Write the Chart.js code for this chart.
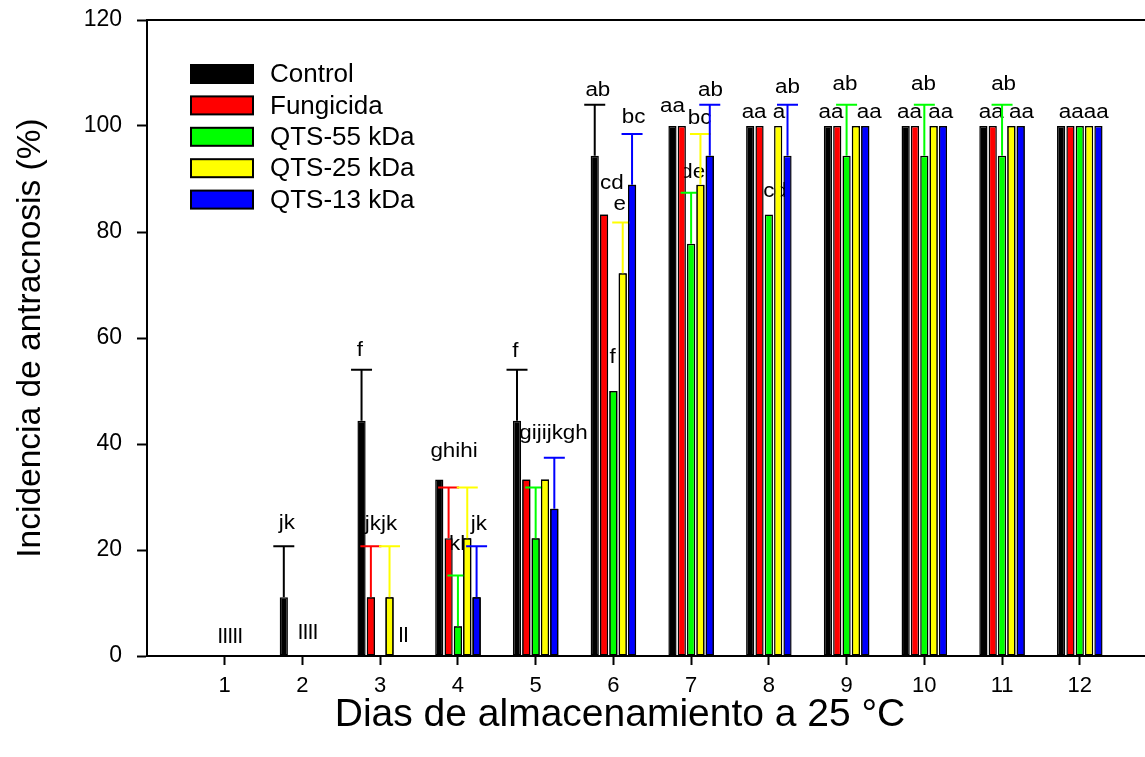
<!DOCTYPE html>
<html>
<head>
<meta charset="utf-8">
<script src="https://cdn.jsdelivr.net/npm/chart.js@4.4.1/dist/chart.umd.min.js"></script>
<style>
  html, body { margin: 0; padding: 0; background: #ffffff; overflow: hidden; }
  canvas { display: block; }
</style>
</head>
<body>
<canvas id="chart" width="1145" height="757"></canvas>
<script>
// Storage days and their axis labels
const days = [1, 2, 3, 4, 5, 6, 7, 8, 9, 10, 11, 12];
const dayLabels = ['1', '2', '3', '4', '5', '6', '7', '8', '9', '10', '11', '12'];
const yTickValues = [0, 20, 40, 60, 80, 100, 120];

// Treatments
const seriesNames = ['Control', 'Fungicida', 'QTS-55 kDa', 'QTS-25 kDa', 'QTS-13 kDa'];

// Anthracnose incidence (%) per day
const control   = [0, 11.1, 44.4, 33.3, 44.4, 94.4, 100, 100, 100, 100, 100, 100];
const fungicida = [0, 0, 11.1, 22.2, 33.3, 83.3, 100, 100, 100, 100, 100, 100];
const qts55     = [0, 0, 0, 5.6, 22.2, 50.0, 77.8, 83.3, 94.4, 94.4, 94.4, 100];
const qts25     = [0, 0, 11.1, 22.2, 33.3, 72.2, 88.9, 100, 100, 100, 100, 100];
const qts13     = [0, 0, 0, 11.1, 27.8, 88.9, 94.4, 94.4, 100, 100, 100, 100];

// Upper error (standard error) per day
const controlErr   = [0, 9.6, 9.6, 0, 9.6, 9.6, 0, 0, 0, 0, 0, 0];
const fungicidaErr = [0, 0, 9.6, 9.6, 0, 0, 0, 0, 0, 0, 0, 0];
const qts55Err     = [0, 0, 0, 9.6, 9.6, 0, 9.6, 0, 9.6, 9.6, 9.6, 0];
const qts25Err     = [0, 0, 9.6, 9.6, 0, 9.6, 9.6, 0, 0, 0, 0, 0];
const qts13Err     = [0, 0, 0, 9.6, 9.6, 9.6, 9.6, 9.6, 0, 0, 0, 0];

// Significance letters: text, day position, incidence level of the baseline
const letterText = ['lllll', 'jk', 'llll', 'f', 'jkjk', 'll', 'ghihi', 'kl', 'jk', 'f', 'gijijkgh',
  'ab', 'cd', 'e', 'f', 'bc', 'aa', 'de', 'bc', 'ab', 'aa', 'cd', 'a', 'ab',
  'aa', 'ab', 'aa', 'aa', 'ab', 'aa', 'aa', 'ab', 'aa', 'aaaa'];
const letterDay = [1.07, 1.80, 2.07, 2.74, 3.01, 3.30, 3.95, 3.99, 4.27, 4.74, 5.23,
  5.80, 5.98, 6.08, 5.99, 6.26, 6.76, 7.02, 7.11, 7.25, 7.81, 8.08, 8.13, 8.24,
  8.80, 8.98, 9.29, 9.81, 9.99, 10.21, 10.86, 11.02, 11.25, 12.05];
const letterLevel = [2.5, 24.0, 3.3, 56.6, 23.8, 2.6, 37.5, 20.0, 23.8, 56.4, 41.0,
  105.7, 88.2, 84.1, 55.2, 100.5, 102.6, 90.1, 100.4, 105.7, 101.6, 86.6, 101.6, 106.2,
  101.5, 106.7, 101.5, 101.5, 106.7, 101.5, 101.5, 106.7, 101.5, 101.5];

const FONT = "'Liberation Sans', Arial, Helvetica, sans-serif";
const fills = ['#000000', '#ff0000', '#00ff00', '#ffff00', '#0000ff'];
const seriesValues = [control, fungicida, qts55, qts25, qts13];
const seriesErrors = [controlErr, fungicidaErr, qts55Err, qts25Err, qts13Err];

const datasets = seriesNames.map((name, i) => ({
  label: name,
  data: days.map((d, j) => ({ x: d, y: seriesValues[i][j] })),
  errors: seriesErrors[i],
  backgroundColor: fills[i],
  borderColor: '#000000',
  borderWidth: 1.5,
  borderSkipped: false,
  categoryPercentage: 0.6,
  barPercentage: 0.88,
  clip: false
}));

// Letters sit behind the bars
const letterPlugin = {
  id: 'letters',
  beforeDatasetsDraw(chart) {
    const { ctx, scales: { x, y } } = chart;
    ctx.save();
    ctx.fillStyle = '#000000';
    ctx.font = '20px ' + FONT;
    ctx.textAlign = 'center';
    ctx.textBaseline = 'alphabetic';
    letterText.forEach((t, i) => {
      ctx.save();
      ctx.translate(x.getPixelForValue(letterDay[i]), y.getPixelForValue(letterLevel[i]));
      ctx.scale(1.12, 1);
      ctx.fillText(t, 0, 0);
      ctx.restore();
    });
    ctx.restore();
  }
};

// Upward error bars; bars of the following series are laid over them again
const errorPlugin = {
  id: 'errorBars',
  afterDatasetsDraw(chart) {
    const { ctx, scales: { y } } = chart;
    const n = chart.data.datasets.length;
    ctx.save();
    days.forEach((d, k) => {
      for (let i = 0; i < n; i++) {
        const ds = chart.data.datasets[i];
        const e = ds.errors[k];
        if (!e) continue;
        const bar = chart.getDatasetMeta(i).data[k];
        const v = ds.data[k].y;
        const yTop = y.getPixelForValue(v + e);
        const yBase = y.getPixelForValue(v);
        ctx.strokeStyle = ds.backgroundColor;
        ctx.lineWidth = 2;
        ctx.beginPath();
        ctx.moveTo(bar.x, yBase);
        ctx.lineTo(bar.x, yTop);
        ctx.moveTo(bar.x - 10.5, yTop);
        ctx.lineTo(bar.x + 10.5, yTop);
        ctx.stroke();
        for (let j = i + 1; j < n; j++) {
          chart.getDatasetMeta(j).data[k].draw(ctx);
        }
      }
    });
    ctx.restore();
  }
};

// Legend inside the plot area; top frame line and the axis line running on to the page edge
const framePlugin = {
  id: 'frameAndLegend',
  afterDraw(chart) {
    const { ctx, chartArea } = chart;
    ctx.save();
    ctx.strokeStyle = '#000000';
    ctx.lineWidth = 2;
    ctx.beginPath();
    ctx.moveTo(chartArea.left - 1, chartArea.top);
    ctx.lineTo(chart.width, chartArea.top);
    ctx.moveTo(chartArea.right - 1, chartArea.bottom);
    ctx.lineTo(chart.width, chartArea.bottom);
    ctx.stroke();

    ctx.font = '26px ' + FONT;
    ctx.textAlign = 'left';
    ctx.textBaseline = 'middle';
    chart.data.datasets.forEach((ds, i) => {
      const cy = 74 + i * 31.4;
      ctx.fillStyle = ds.backgroundColor;
      ctx.fillRect(191, cy - 9, 62, 18);
      ctx.lineWidth = 2;
      ctx.strokeStyle = '#000000';
      ctx.strokeRect(191, cy - 9, 62, 18);
      ctx.fillStyle = '#000000';
      ctx.fillText(ds.label, 270, cy + 1);
    });
    ctx.restore();
  }
};

new Chart(document.getElementById('chart'), {
  type: 'bar',
  data: { datasets },
  plugins: [letterPlugin, errorPlugin, framePlugin],
  options: {
    responsive: false,
    animation: false,
    devicePixelRatio: 1,
    layout: { padding: { top: 20, left: 0, right: 52, bottom: 0 } },
    plugins: { legend: { display: false }, tooltip: { enabled: false } },
    scales: {
      x: {
        type: 'linear',
        offset: false,
        min: 0,
        max: 12.17,
        afterFit(scale) { scale.height = 101; },
        border: { display: true, color: '#000000', width: 2 },
        grid: {
          display: true,
          offset: false,
          drawOnChartArea: false,
          drawTicks: true,
          tickLength: 9,
          tickWidth: 2,
          tickColor: (c) => (c.tick && c.tick.value >= 1 ? '#000000' : 'rgba(0,0,0,0)')
        },
        ticks: {
          stepSize: 1,
          includeBounds: false,
          autoSkip: false,
          maxRotation: 0,
          padding: 8,
          color: '#000000',
          font: { family: FONT, size: 22 },
          callback: (v) => { const i = days.indexOf(v); return i >= 0 ? dayLabels[i] : ''; }
        },
        title: {
          display: true,
          text: 'Dias de almacenamiento a 25 °C',
          color: '#000000',
          font: { family: FONT, size: 39 },
          padding: { top: 0, bottom: 18 }
        }
      },
      y: {
        min: 0,
        max: 120,
        afterFit(scale) {
          scale.width = 147;
          scale.paddingTop = 0;
          scale.paddingBottom = 0;
        },
        afterBuildTicks(scale) { scale.ticks = yTickValues.map(v => ({ value: v })); },
        border: { display: true, color: '#000000', width: 2 },
        grid: {
          display: true,
          drawOnChartArea: false,
          drawTicks: true,
          tickLength: 10,
          tickWidth: 2,
          tickColor: '#000000'
        },
        ticks: {
          padding: 15,
          color: '#000000',
          font: { family: FONT, size: 23 }
        },
        title: {
          display: true,
          text: 'Incidencia de antracnosis (%)',
          color: '#000000',
          font: { family: FONT, size: 33.5 },
          padding: { top: 11, bottom: 0 }
        }
      }
    }
  }
});
</script>
</body>
</html>
